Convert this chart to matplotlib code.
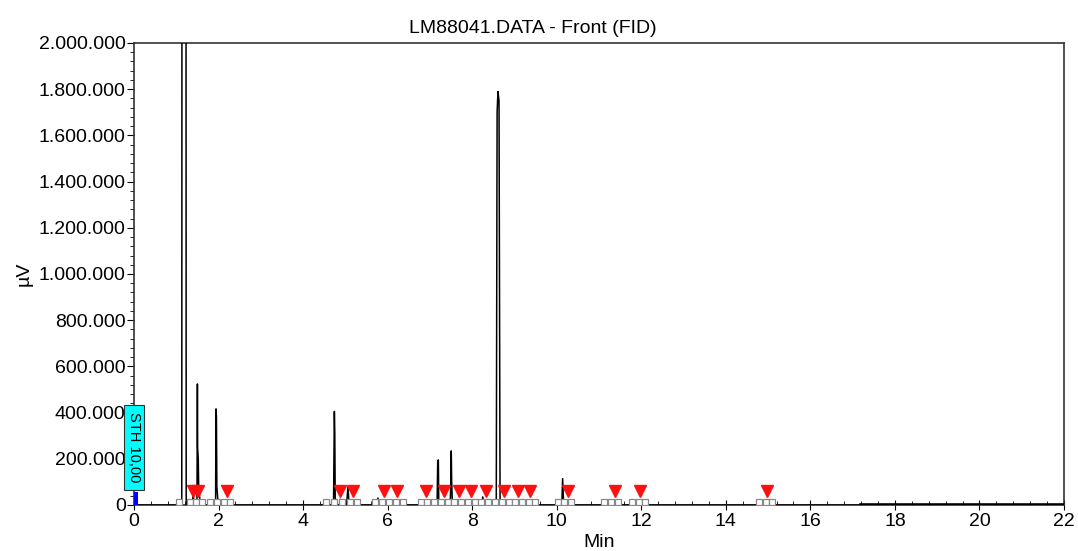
"""FID chromatogram LM88041 with peak markers."""
import matplotlib
matplotlib.use("Agg")
import matplotlib.pyplot as plt
from matplotlib.patches import Rectangle
from matplotlib.ticker import FuncFormatter, MultipleLocator

plt.rcParams["font.family"] = ["Liberation Sans", "DejaVu Sans"]

# chromatogram trace (minutes, microvolts)
trace_time = [0.0, 1.10, 1.13, 1.14, 1.225, 1.235, 1.30, 1.38, 1.40, 1.42,
              1.49, 1.50, 1.505, 1.52, 1.53, 1.56, 1.60,
              1.93, 1.94, 1.95, 1.96, 1.98, 2.02, 2.18, 2.20, 2.22,
              4.68, 4.70, 4.72, 4.74, 4.75, 4.76, 4.80, 4.86, 4.88, 4.90,
              5.03, 5.06, 5.09, 5.74, 5.77, 5.82, 6.82, 6.84, 6.86,
              7.17, 7.185, 7.20, 7.21, 7.48, 7.495, 7.505, 7.515, 7.53, 7.56,
              8.23, 8.25, 8.28, 8.57, 8.59, 8.61, 8.635, 8.66, 8.70,
              9.05, 9.10, 9.15, 9.35, 9.37, 9.40,
              10.12, 10.14, 10.16, 10.19, 14.92, 14.95, 14.98, 22.0]
trace_signal = [0, 0, 0, 5.0e6, 5.0e6, 0, 0, 0, 55e3, 0,
                0, 524e3, 250e3, 200e3, 80e3, 20e3, 0,
                0, 416e3, 380e3, 80e3, 30e3, 0, 0, 15e3, 0,
                0, 12e3, 0, 405e3, 310e3, 30e3, 0, 0, 25e3, 0,
                0, 78e3, 0, 0, 30e3, 0, 0, 12e3, 0,
                0, 190e3, 195e3, 0, 0, 100e3, 234e3, 100e3, 20e3, 0,
                0, 35e3, 0, 0, 1.70e6, 1.79e6, 1.75e6, 0, 0,
                0, 12e3, 0, 0, 15e3, 0,
                0, 114e3, 20e3, 0, 0, 12e3, 0, 0]

# detected peak apex markers (minutes)
peak_marks = [1.40, 1.51, 2.20, 4.87, 5.18, 5.91, 6.22, 6.91, 7.33, 7.69,
              7.97, 8.33, 8.75, 9.09, 9.37, 10.27, 11.38, 11.97, 14.98]
# peak start / end boxes (minutes)
bound_marks = [1.06, 1.32, 1.47, 1.61, 1.80, 1.96, 2.12, 2.27,
               4.55, 4.72, 4.93, 5.11, 5.28, 5.70, 5.87, 6.04, 6.20, 6.36,
               6.78, 6.94, 7.10, 7.26, 7.42, 7.58, 7.74, 7.90, 8.06, 8.22,
               8.38, 8.54, 8.70, 8.86, 9.02, 9.18, 9.34, 9.48,
               10.02, 10.18, 10.33, 11.12, 11.28, 11.44, 11.78, 11.94, 12.10,
               14.78, 14.94, 15.10]
mark_level = 60e3
bound_level = 14e3
noisy_baseline_from = 17.2

fig = plt.figure(figsize=(10.78, 5.51), dpi=100)
ax = fig.add_axes([0.1243, 0.0835, 0.8627, 0.8385])

ax.plot(trace_time, trace_signal, color="black", lw=1.1, zorder=3)
ax.plot([noisy_baseline_from, 22], [0, 0], color="black", lw=2.6, zorder=3)

ax.plot(bound_marks, [bound_level] * len(bound_marks), ls="none", marker="s",
        ms=4.6, mfc="white", mec="#888888", mew=0.9, zorder=4)
ax.plot(peak_marks, [mark_level] * len(peak_marks), ls="none", marker="v",
        ms=9, mfc="#ff1010", mec="#ff1010", zorder=5)

# STH label and blue marker at t=0
ax.add_patch(Rectangle((-0.24, 65e3), 0.48, 368e3, fc="#00ffff", ec="#333333",
                       lw=0.8, clip_on=False, zorder=6))
ax.text(0.0, 249e3, "STH 10,00", rotation=270, ha="center", va="center",
        fontsize=10.5, zorder=7, clip_on=False)
ax.add_patch(Rectangle((0.0, 0), 0.09, 56e3, fc="#0000ff", ec="none",
                       clip_on=False, zorder=6))

ax.set_xlim(0, 22)
ax.set_ylim(0, 2.0e6)
ax.xaxis.set_major_locator(MultipleLocator(2))
ax.xaxis.set_minor_locator(MultipleLocator(0.4))
ax.yaxis.set_major_locator(MultipleLocator(200e3))
ax.yaxis.set_minor_locator(MultipleLocator(40e3))
ax.yaxis.set_major_formatter(FuncFormatter(lambda v, _: f"{int(round(v)):,}".replace(",", ".")))
ax.tick_params(axis="x", which="major", direction="inout", length=7, labelsize=14, pad=2)
ax.tick_params(axis="x", which="minor", direction="in", length=3)
ax.tick_params(axis="y", which="major", direction="out", length=5, labelsize=14, pad=1)
ax.tick_params(axis="y", which="minor", direction="out", length=3)
for s in ax.spines.values():
    s.set_color("#333333")
    s.set_linewidth(1.2)

ax.set_xlabel("Min", fontsize=14, labelpad=3)
ax.set_ylabel("µV", fontsize=14, labelpad=4)
fig.text(0.494, 0.948, "LM88041.DATA - Front (FID)", ha="center", va="center", fontsize=14)

fig.savefig("out.png", dpi=100)
